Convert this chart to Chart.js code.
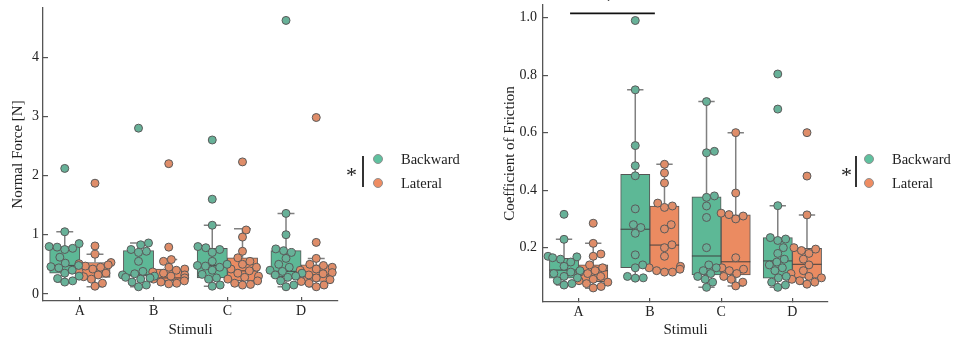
<!DOCTYPE html>
<html><head><meta charset="utf-8">
<script src="https://cdn.jsdelivr.net/npm/chart.js@4.4.0/dist/chart.umd.min.js"></script>
<style>
html,body{margin:0;padding:0;background:#fff;width:956px;height:341px;overflow:hidden;}
.panel{position:absolute;top:0;width:478px;height:341px;}
.lg{position:absolute;font-family:"Liberation Serif","Times New Roman",serif;color:#222;white-space:nowrap;}
.bar{position:absolute;width:1.6px;background:#333;}
.dot{position:absolute;width:10px;height:10px;border-radius:50%;box-sizing:border-box;border:1px solid #8f8f8f;}
</style></head><body>
<div class="panel" style="left:0"><canvas id="c1" width="478" height="341"></canvas></div>
<div class="panel" style="left:478px"><canvas id="c2" width="478" height="341"></canvas></div>
<div id="legends"></div>
<script>
const categories = ['A', 'B', 'C', 'D'];
const seriesNames = ['Backward', 'Lateral'];
const forceTicks = [0, 1, 2, 3, 4];
const frictionTicks = [0.2, 0.4, 0.6, 0.8, 1.0];

// box stats per stimulus: [lower whisker, Q1, median, Q3, upper whisker]
const forceBackwardBox = [[0.20,0.35,0.48,0.80,1.05],[0.12,0.30,0.32,0.73,0.86],[0.13,0.27,0.48,0.77,1.16],[0.12,0.29,0.38,0.73,1.36]];
const forceLateralBox  = [[0.12,0.28,0.45,0.53,0.67],[0.17,0.22,0.27,0.42,0.58],[0.15,0.22,0.39,0.61,1.10],[0.12,0.21,0.32,0.49,0.60]];
const forceBackwardPoints = [
  [2.12,1.05,0.85,0.80,0.79,0.77,0.75,0.62,0.52,0.48,0.46,0.44,0.40,0.35,0.30,0.26,0.22,0.20],
  [2.80,0.86,0.83,0.75,0.72,0.70,0.55,0.38,0.34,0.32,0.30,0.28,0.27,0.25,0.20,0.15,0.12],
  [2.60,1.60,1.16,0.80,0.78,0.75,0.70,0.55,0.50,0.48,0.47,0.45,0.40,0.33,0.27,0.25,0.15,0.13],
  [4.62,1.36,1.00,0.76,0.73,0.70,0.60,0.50,0.45,0.40,0.38,0.35,0.32,0.30,0.28,0.22,0.15,0.12]
];
const forceLateralPoints = [
  [1.87,0.81,0.67,0.53,0.51,0.49,0.47,0.45,0.42,0.38,0.35,0.32,0.29,0.25,0.18,0.13],
  [2.20,0.79,0.58,0.55,0.45,0.42,0.40,0.37,0.35,0.32,0.30,0.28,0.27,0.25,0.22,0.20,0.18,0.17],
  [2.23,1.08,0.96,0.72,0.61,0.55,0.50,0.45,0.42,0.39,0.35,0.30,0.28,0.25,0.22,0.18,0.16,0.15],
  [2.98,0.87,0.60,0.50,0.48,0.45,0.42,0.40,0.36,0.34,0.32,0.30,0.27,0.24,0.21,0.18,0.15,0.12]
];
const frictionBackwardBox = [[0.070,0.094,0.122,0.163,0.229],[0.094,0.130,0.264,0.455,0.749],[0.062,0.105,0.171,0.377,0.708],[0.062,0.094,0.154,0.235,0.346]];
const frictionLateralBox  = [[0.059,0.082,0.120,0.140,0.215],[0.115,0.122,0.209,0.345,0.490],[0.067,0.105,0.151,0.314,0.600],[0.073,0.094,0.142,0.198,0.314]];
const frictionBackwardPoints = [
  [0.316,0.229,0.170,0.168,0.165,0.160,0.150,0.135,0.120,0.115,0.110,0.100,0.095,0.085,0.075,0.070],
  [0.990,0.749,0.555,0.485,0.450,0.335,0.280,0.270,0.250,0.175,0.140,0.130,0.100,0.095,0.094],
  [0.708,0.535,0.530,0.380,0.375,0.345,0.305,0.200,0.140,0.130,0.120,0.110,0.100,0.090,0.080,0.062],
  [0.804,0.682,0.346,0.235,0.230,0.225,0.200,0.180,0.160,0.150,0.140,0.130,0.120,0.100,0.095,0.080,0.070,0.062]
];
const frictionLateralPoints = [
  [0.285,0.215,0.178,0.170,0.140,0.130,0.120,0.115,0.110,0.100,0.090,0.085,0.080,0.075,0.065,0.060],
  [0.490,0.460,0.425,0.355,0.345,0.340,0.280,0.265,0.210,0.200,0.170,0.135,0.130,0.125,0.120,0.115,0.115],
  [0.600,0.390,0.320,0.315,0.310,0.300,0.165,0.130,0.125,0.120,0.110,0.100,0.090,0.080,0.067],
  [0.600,0.449,0.314,0.200,0.195,0.190,0.180,0.160,0.140,0.120,0.110,0.100,0.095,0.090,0.085,0.080,0.073]
];
const frictionSigPairs = [{from: 'A', to: 'B', label: '*', level: 1.015}];

const FONT = '"Liberation Serif", "Times New Roman", serif';
const BOX_SHIFT = 0.205;
const boxColors = ['#5db896', '#eb8b61'];
const pointColors = ['#67b198', '#df8d69'];

function flatten(points, shift) {
  const out = [];
  points.forEach((arr, i) => arr.forEach(v => out.push({x: i + shift, y: v, cat: i})));
  return out;
}

const boxPlugin = {
  id: 'boxWhisk',
  afterDatasetDraw(chart, args) {
    const ds = chart.data.datasets[args.index];
    if (!ds.boxStats) return;
    const y = chart.scales.y, ctx = chart.ctx;
    ctx.save();
    args.meta.data.forEach((el, i) => {
      const b = ds.boxStats[i];
      const {x, width} = el.getProps(['x', 'width'], true);
      const half = width / 2, cap = width * 0.28;
      const yLo = y.getPixelForValue(b[0]), yQ1 = y.getPixelForValue(b[1]);
      const yMed = y.getPixelForValue(b[2]), yQ3 = y.getPixelForValue(b[3]), yHi = y.getPixelForValue(b[4]);
      ctx.strokeStyle = '#808080'; ctx.lineWidth = 1.5;
      ctx.beginPath();
      ctx.moveTo(x, yQ3); ctx.lineTo(x, yHi);
      ctx.moveTo(x, yQ1); ctx.lineTo(x, yLo);
      ctx.moveTo(x - cap, yHi); ctx.lineTo(x + cap, yHi);
      ctx.moveTo(x - cap, yLo); ctx.lineTo(x + cap, yLo);
      ctx.stroke();
      ctx.strokeStyle = 'rgba(60,60,60,0.8)'; ctx.lineWidth = 1.2;
      ctx.beginPath(); ctx.moveTo(x - half, yMed); ctx.lineTo(x + half, yMed); ctx.stroke();
    });
    ctx.restore();
  }
};

// beeswarm layout of the points (computed from the scaled values), clamped to the box width
const swarmPlugin = {
  id: 'swarm',
  afterDatasetsUpdate(chart) {
    chart.data.datasets.forEach((ds, di) => {
      if (!ds.swarm) return;
      const meta = chart.getDatasetMeta(di);
      const groups = {};
      ds.data.forEach((d, j) => { (groups[d.cat] = groups[d.cat] || []).push(meta.data[j]); });
      const D = ds.swarmGap, lim = ds.swarmLimit;
      Object.values(groups).forEach(els => {
        const cx = els[0].x;
        const sorted = els.slice().sort((a, b) => b.y - a.y);
        const placed = [];
        sorted.forEach(el => {
          const near = placed.filter(p => Math.abs(p.y - el.y) < D);
          const cands = [0];
          near.forEach(p => { const dx = Math.sqrt(D * D - (p.y - el.y) ** 2); cands.push(p.off + dx, p.off - dx); });
          cands.sort((a, b) => Math.abs(a) - Math.abs(b));
          let off = null;
          for (const c of cands) {
            if (near.every(p => (p.off - c) ** 2 + (p.y - el.y) ** 2 >= D * D - 0.01)) { off = c; break; }
          }
          if (off === null) off = 0;
          off = Math.max(-lim, Math.min(lim, off));
          placed.push({y: el.y, off});
          el.x = cx + off;
        });
      });
    });
  }
};

const sigPlugin = {
  id: 'sig',
  afterDraw(chart) {
    const xs = chart.scales.x, ys = chart.scales.y, ctx = chart.ctx;
    frictionSigPairs.forEach(s => {
      const x1 = xs.getPixelForValue(categories.indexOf(s.from) - 0.12);
      const x2 = xs.getPixelForValue(categories.indexOf(s.to) + 0.07);
      const yy = ys.getPixelForValue(s.level);
      ctx.save();
      ctx.strokeStyle = '#111'; ctx.lineWidth = 1.6;
      ctx.beginPath(); ctx.moveTo(x1, yy); ctx.lineTo(x2, yy); ctx.stroke();
      ctx.fillStyle = '#111'; ctx.font = '20px ' + FONT; ctx.textAlign = 'center'; ctx.textBaseline = 'alphabetic';
      ctx.fillText(s.label, (x1 + x2) / 2 - 4, yy - 6);
      ctx.restore();
    });
  }
};

function buildChart(id, o) {
  const mkBar = (k, box) => ({
    type: 'bar', label: seriesNames[k],
    data: box.map((b, i) => ({x: i + (k ? BOX_SHIFT : -BOX_SHIFT), y: [b[1], b[3]]})),
    boxStats: box, backgroundColor: boxColors[k], borderColor: '#555', borderWidth: 1,
    borderSkipped: false, grouped: false, categoryPercentage: 1, barPercentage: 1, order: 3 - k
  });
  const mkPts = (k, pts) => ({
    type: 'scatter', label: seriesNames[k],
    data: flatten(pts, k ? BOX_SHIFT : -BOX_SHIFT), swarm: true, swarmGap: 8, swarmLimit: 16,
    pointRadius: 4, pointBackgroundColor: pointColors[k], pointBorderColor: '#5a5a5a', pointBorderWidth: 1, order: 1
  });
  return new Chart(document.getElementById(id), {
    type: 'bar',
    data: {datasets: [mkBar(0, o.backBox), mkBar(1, o.latBox), mkPts(0, o.backPts), mkPts(1, o.latPts)]},
    options: {
      responsive: false, animation: false, events: [],
      layout: {padding: {left: 0, top: o.top, right: o.right, bottom: 0}},
      plugins: {legend: {display: false}, tooltip: {enabled: false}},
      scales: {
        x: {
          type: 'linear', min: -0.5, max: 3.5, offset: false,
          grid: {offset: false, drawOnChartArea: false, tickLength: -4, color: '#555', lineWidth: 1.2},
          border: {color: '#555', width: 1.3},
          afterBuildTicks: s => { s.ticks = categories.map((c, i) => ({value: i})); },
          ticks: {autoSkip: false, maxRotation: 0, padding: 6, color: '#222', font: {family: FONT, size: 14},
                  callback: v => categories[v] ?? ''},
          title: {display: true, text: 'Stimuli', color: '#222', font: {family: FONT, size: 15}, padding: {top: 0, bottom: 2}},
          afterFit: s => { s.height = o.xH; s.paddingLeft = 0; s.paddingRight = 0; }
        },
        y: {
          type: 'linear', min: o.ymin, max: o.ymax,
          grid: {drawOnChartArea: false, tickLength: -5, color: '#555', lineWidth: 1.2},
          border: {color: '#555', width: 1.3},
          afterBuildTicks: s => { s.ticks = o.ticks.map(v => ({value: v})); },
          ticks: {padding: o.tickPad, color: '#222', font: {family: FONT, size: 14}, callback: o.fmt},
          title: {display: true, text: o.yTitle, color: '#222', font: {family: FONT, size: 15}, padding: {top: o.titlePad, bottom: 0}},
          afterFit: s => { s.width = o.yW; s.paddingTop = 0; s.paddingBottom = 0; }
        }
      }
    },
    plugins: [boxPlugin, swarmPlugin].concat(o.extra || [])
  });
}

buildChart('c1', {
  backBox: forceBackwardBox, latBox: forceLateralBox, backPts: forceBackwardPoints, latPts: forceLateralPoints,
  top: 8, right: 140, xH: 40, yW: 43, ymin: -0.12, ymax: 4.83, ticks: forceTicks, fmt: v => String(v),
  yTitle: 'Normal Force [N]', titlePad: 9, tickPad: 9
});
buildChart('c2', {
  backBox: frictionBackwardBox, latBox: frictionLateralBox, backPts: frictionBackwardPoints, latPts: frictionLateralPoints,
  top: 5, right: 128, xH: 39, yW: 65, ymin: 0.011, ymax: 1.044, ticks: frictionTicks, fmt: v => v.toFixed(1),
  yTitle: 'Coefficient of Friction', titlePad: 23, tickPad: 11, extra: [sigPlugin]
});

// legends (HTML text)
const legendSpecs = [{star: 346, line: 362, dot: 378}, {star: 841, line: 855, dot: 869}];
const legRoot = document.getElementById('legends');
legendSpecs.forEach(L => {
  let h = '';
  h += `<div class="lg" style="left:${L.star}px;top:164px;font-size:22px;line-height:22px;">*</div>`;
  h += `<div class="bar" style="left:${L.line}px;top:156px;height:31px;"></div>`;
  seriesNames.forEach((name, k) => {
    const cy = 159 + k * 23.5;
    h += `<div class="dot" style="left:${L.dot - 5}px;top:${cy - 5}px;background:${k ? '#ef8c62' : '#5fc19f'};"></div>`;
    h += `<div class="lg" style="left:${L.dot + 23}px;top:${cy - 8}px;font-size:14.5px;line-height:16px;">${name}</div>`;
  });
  legRoot.insertAdjacentHTML('beforeend', h);
});
</script>
</body></html>
